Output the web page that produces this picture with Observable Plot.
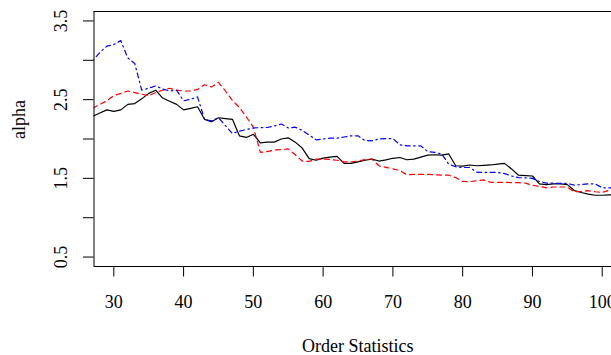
<!DOCTYPE html>
<html>
<head>
<meta charset="utf-8">
<script src="https://cdn.jsdelivr.net/npm/d3@7"></script>
<script src="https://cdn.jsdelivr.net/npm/@observablehq/plot@0.6"></script>
<style>
  html, body { margin: 0; padding: 0; background: #fff; }
  #chart svg { display: block; }
</style>
</head>
<body>
<div id="chart"></div>
<script>
const k = d3.range(27, 103);
const blackVals = [2.29,2.33,2.37,2.35,2.37,2.44,2.45,2.51,2.58,2.62,2.52,2.48,2.44,2.37,2.39,2.41,2.25,2.22,2.27,2.26,2.25,2.04,2.02,2.06,1.95,1.96,1.96,2.00,2.015,1.96,1.885,1.75,1.73,1.757,1.77,1.78,1.69,1.69,1.71,1.73,1.745,1.72,1.735,1.755,1.765,1.736,1.745,1.77,1.795,1.80,1.795,1.81,1.66,1.656,1.67,1.66,1.665,1.67,1.68,1.69,1.62,1.54,1.535,1.53,1.43,1.42,1.43,1.43,1.42,1.345,1.32,1.30,1.285,1.285,1.29,1.29];
const redVals = [2.39,2.44,2.485,2.55,2.58,2.61,2.59,2.57,2.55,2.59,2.62,2.645,2.62,2.61,2.61,2.63,2.69,2.66,2.72,2.61,2.49,2.40,2.28,2.15,1.83,1.84,1.86,1.865,1.875,1.80,1.72,1.715,1.745,1.745,1.74,1.73,1.71,1.71,1.72,1.74,1.745,1.66,1.64,1.62,1.60,1.545,1.55,1.55,1.55,1.545,1.54,1.54,1.51,1.46,1.457,1.47,1.48,1.45,1.45,1.45,1.445,1.445,1.44,1.41,1.40,1.38,1.39,1.39,1.39,1.33,1.335,1.343,1.33,1.32,1.35,1.37];
const blueVals = [3.00,3.10,3.18,3.20,3.25,3.03,2.96,2.62,2.645,2.675,2.635,2.61,2.62,2.485,2.505,2.535,2.25,2.23,2.27,2.17,2.07,2.10,2.12,2.14,2.145,2.146,2.165,2.19,2.14,2.15,2.11,2.05,1.99,2.00,2.01,2.01,2.025,2.04,2.04,1.98,1.977,2.00,2.005,2.006,1.925,1.913,1.913,1.913,1.84,1.83,1.81,1.68,1.647,1.638,1.638,1.58,1.575,1.575,1.575,1.56,1.53,1.51,1.505,1.50,1.46,1.44,1.44,1.435,1.435,1.415,1.42,1.43,1.43,1.38,1.38,1.38];
const xTicks = [30, 40, 50, 60, 70, 80, 90, 100];
const yTicks = [0.5, 1.0, 1.5, 2.0, 2.5, 3.0, 3.5];
const yLabels = [0.5, 1.5, 2.5, 3.5];
const xTitle = "Order Statistics";
const yTitle = "alpha";

const toRows = vals => k.map((x, i) => ({x, y: vals[i]}));
const black = toRows(blackVals), red = toRows(redVals), blue = toRows(blueVals);

const xDom = [27.16, 101.33], yDom = [0.38, 3.62];
const font = "'Liberation Serif', 'Times New Roman', serif";

const chart = Plot.plot({
  width: 611, height: 355,
  marginLeft: 93.5, marginRight: 0, marginTop: 11, marginBottom: 89,
  x: {domain: xDom},
  y: {domain: yDom},
  style: {fontFamily: font, fontSize: "18px", background: "#fff"},
  marks: [
    Plot.line(black, {x: "x", y: "y", stroke: "#000", strokeWidth: 1.2, clip: true}),
    Plot.line(red, {x: "x", y: "y", stroke: "#ff0000", strokeWidth: 1.2, strokeDasharray: "5,4", clip: true}),
    Plot.line(blue, {x: "x", y: "y", stroke: "#0000ff", strokeWidth: 1.2, strokeDasharray: "1.5,3.5,5,3.5", clip: true}),
    Plot.ruleY([yDom[1]], {stroke: "#000", strokeWidth: 1}),
    Plot.ruleY([yDom[0]], {stroke: "#000", strokeWidth: 1}),
    Plot.ruleX([xDom[0]], {stroke: "#000", strokeWidth: 1}),
    Plot.axisX(xTicks, {tickSize: 10.5, tickFormat: () => "", label: null, stroke: "#000"}),
    Plot.axisY(yTicks, {tickSize: 10.5, tickFormat: () => "", label: null, stroke: "#000"}),
    Plot.text(xTicks, {x: d => d, frameAnchor: "bottom", dy: 36.2, text: d => String(d), fill: "#000", fontSize: 18, lineAnchor: "middle"}),
    Plot.text(yLabels, {y: d => d, frameAnchor: "left", dx: -32.6, rotate: -90, text: d => d.toFixed(1), fill: "#000", fontSize: 18, lineAnchor: "middle", textAnchor: "middle"}),
    Plot.text([xTitle], {frameAnchor: "bottom", dy: 79.7, dx: 5, text: d => d, fill: "#000", fontSize: 18, lineAnchor: "middle"}),
    Plot.text([yTitle], {frameAnchor: "left", dx: -75, rotate: -90, text: d => d, fill: "#000", fontSize: 18, lineAnchor: "middle"})
  ]
});
document.getElementById("chart").appendChild(chart);
</script>
</body>
</html>
